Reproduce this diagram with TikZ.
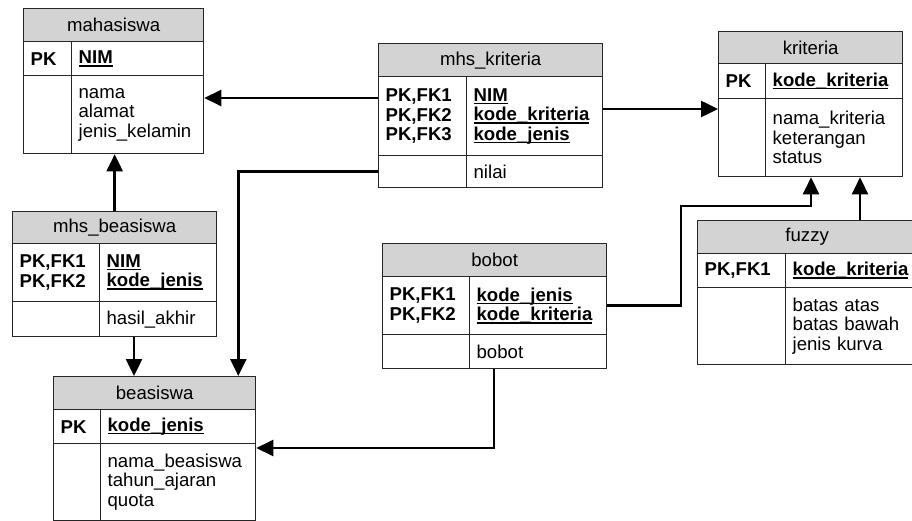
\documentclass[tikz,border=0pt]{standalone}
\usepackage{fontspec}
\setmainfont{Liberation Sans}
\usepackage{tikz}
\usetikzlibrary{arrows.meta}

\definecolor{hdrgray}{RGB}{211,211,211}
\newcommand{\erfont}{\fontsize{18.6}{19.5}\selectfont}
\newcommand{\keyfld}[1]{\leavevmode\setbox0=\hbox{\bfseries #1}\rlap{\rule[-3pt]{\wd0}{1.6pt}}\box0}

\tikzset{
  tblhead/.style={draw=black!85, fill=hdrgray, anchor=north west, inner sep=0pt, line width=1.3pt},
  tblcell/.style={draw=black!85, anchor=north west, inner xsep=7pt, inner ysep=0pt, align=left, line width=1.3pt},
  relline/.style={line width=2.5pt, -{Triangle[length=17pt,width=16pt]}}
}

\begin{document}
\begin{tikzpicture}[x=1pt, y=-1pt, font=\erfont]
        \useasboundingbox (0,0) rectangle (912,521);

        % mahasiswa
        \node [tblhead, minimum width=180pt, minimum height=33pt] (mhsHead) at (23,8) {mahasiswa};
        \node [tblcell, text width=34pt, minimum height=34pt] (mhsKeyL) at (23,41) {\textbf{PK}};
        \node [tblcell, text width=118pt, minimum height=34pt] (mhsKeyR) at (71,41) {\keyfld{NIM}};
        \node [tblcell, text width=34pt, minimum height=78pt] (mhsAttL) at (23,75) {};
        \node [tblcell, text width=118pt, minimum height=78pt] (mhsAttR) at (71,75) {nama\\alamat\\jenis\_kelamin};

        % mhs_kriteria
        \node [tblhead, minimum width=224pt, minimum height=33pt] (mkHead) at (378,43) {mhs\_kriteria};
        \node [tblcell, text width=74pt, minimum height=79pt] (mkKeyL) at (378,76) {\textbf{PK,FK1}\\\textbf{PK,FK2}\\\textbf{PK,FK3}};
        \node [tblcell, text width=122pt, minimum height=79pt] (mkKeyR) at (466,76) {\keyfld{NIM}\\\keyfld{kode\_kriteria}\\\keyfld{kode\_jenis}};
        \node [tblcell, text width=74pt, minimum height=32pt] (mkAttL) at (378,155) {};
        \node [tblcell, text width=122pt, minimum height=32pt] (mkAttR) at (466,155) {nilai};

        % kriteria
        \node [tblhead, minimum width=184pt, minimum height=32pt] (krHead) at (718,31) {kriteria};
        \node [tblcell, text width=33pt, minimum height=35pt] (krKeyL) at (718,63) {\textbf{PK}};
        \node [tblcell, text width=123pt, minimum height=35pt] (krKeyR) at (765,63) {\keyfld{kode\_kriteria}};
        \node [tblcell, text width=33pt, minimum height=78pt] (krAttL) at (718,98) {};
        \node [tblcell, text width=123pt, minimum height=78pt] (krAttR) at (765,98) {nama\_kriteria\\keterangan\\status};

        % mhs_beasiswa
        \node [tblhead, minimum width=204pt, minimum height=32pt] (mbHead) at (12,211) {mhs\_beasiswa};
        \node [tblcell, text width=73pt, minimum height=58pt] (mbKeyL) at (12,243) {\textbf{PK,FK1}\\\textbf{PK,FK2}};
        \node [tblcell, text width=103pt, minimum height=58pt] (mbKeyR) at (99,243) {\keyfld{NIM}\\\keyfld{kode\_jenis}};
        \node [tblcell, text width=73pt, minimum height=35pt] (mbAttL) at (12,301) {};
        \node [tblcell, text width=103pt, minimum height=35pt] (mbAttR) at (99,301) {hasil\_akhir};

        % bobot
        \node [tblhead, minimum width=224pt, minimum height=33pt] (bbHead) at (382,243) {bobot};
        \node [tblcell, text width=73pt, minimum height=58pt] (bbKeyL) at (382,276) {\textbf{PK,FK1}\\\textbf{PK,FK2}};
        \node [tblcell, text width=123pt, minimum height=58pt] (bbKeyR) at (469,276) {\keyfld{kode\_jenis}\\\keyfld{kode\_kriteria}};
        \node [tblcell, text width=73pt, minimum height=34pt] (bbAttL) at (382,334) {};
        \node [tblcell, text width=123pt, minimum height=34pt] (bbAttR) at (469,334) {bobot};

        % fuzzy
        \node [tblhead, minimum width=219pt, minimum height=33pt] (fzHead) at (697,220) {fuzzy};
        \node [tblcell, text width=74pt, minimum height=34pt] (fzKeyL) at (697,253) {\textbf{PK,FK1}};
        \node [tblcell, text width=117pt, minimum height=34pt] (fzKeyR) at (785,253) {\keyfld{kode\_kriteria}};
        \node [tblcell, text width=74pt, minimum height=77pt] (fzAttL) at (697,287) {};
        \node [tblcell, text width=117pt, minimum height=77pt] (fzAttR) at (785,287) {batas atas\\batas bawah\\jenis kurva};

        % beasiswa
        \node [tblhead, minimum width=202pt, minimum height=33pt] (bsHead) at (53,376) {beasiswa};
        \node [tblcell, text width=33pt, minimum height=34pt] (bsKeyL) at (53,409) {\textbf{PK}};
        \node [tblcell, text width=141pt, minimum height=34pt] (bsKeyR) at (100,409) {\keyfld{kode\_jenis}};
        \node [tblcell, text width=33pt, minimum height=77pt] (bsAttL) at (53,443) {};
        \node [tblcell, text width=141pt, minimum height=77pt] (bsAttR) at (100,443) {nama\_beasiswa\\tahun\_ajaran\\quota};

        % connector ends
        \coordinate (mhsIn) at ([yshift=-23pt]mhsAttR.north east);
        \coordinate (krIn) at ([yshift=-11pt]krAttL.north west);
        \coordinate (krIn2) at ([xshift=46pt]krAttR.south west);
        \coordinate (krIn3) at ([xshift=95pt]krAttR.south west);
        \coordinate (bsIn) at ([xshift=81pt]bsHead.north west);
        \coordinate (bsIn2) at ([xshift=-18pt]bsHead.north east);
        \coordinate (bsIn3) at ([yshift=-5pt]bsAttR.north east);
        \coordinate (bbOut) at ([xshift=25pt]bbAttR.south west);

        \draw [relline] (mkKeyL.west |- mhsIn) -- (mhsIn);
        \draw [relline] (mkKeyR.east |- krIn) -- (krIn);
        \draw [relline] (mkAttL.west) -| (bsIn2);
        \draw [relline] (mbHead.north) -- (mbHead.north |- mhsAttR.south);
        \draw [relline] (mbAttR.south -| bsIn) -- (bsIn);
        \draw [relline] (bbKeyR.east) -| (681,206) -| (krIn2);
        \draw [relline] (fzHead.north -| krIn3) -- (krIn3);
        \draw [relline] (bbOut) |- (bsIn3);
      \end{tikzpicture}
\end{document}
